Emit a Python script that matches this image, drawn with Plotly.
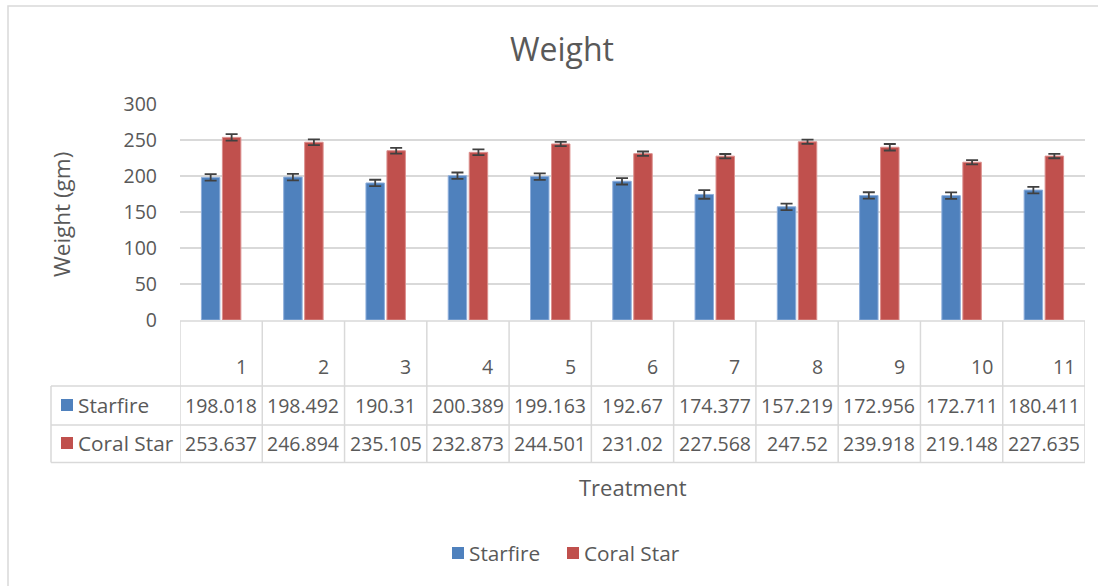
import plotly.graph_objects as go

categories = ["1", "2", "3", "4", "5", "6", "7", "8", "9", "10", "11"]
series_names = ["Starfire", "Coral Star"]
starfire = [198.018, 198.492, 190.31, 200.389, 199.163, 192.67, 174.377, 157.219, 172.956, 172.711, 180.411]
coral_star = [253.637, 246.894, 235.105, 232.873, 244.501, 231.02, 227.568, 247.52, 239.918, 219.148, 227.635]
starfire_err = [4.5, 4.5, 4.5, 4.5, 4.5, 4.5, 6, 4.5, 4.5, 4.5, 4.5]
coral_err = [4.5, 4, 4, 4, 3, 3, 3, 3, 4.5, 3, 3]
y_ticks = [0, 50, 100, 150, 200, 250, 300]

colors = ["#4F81BD", "#C0504D"]
edge = ["#8EAEDB", "#DC8F8D"]
TXT = "#595959"
GRID = "#D9D9D9"
FONT = "Open Sans"
FS = 19.5
FL = 20.8

W, H = 1098, 586
L, R, T, B = 180, 13, 104, 266
PW = W - L - R
PH = H - T - B


def px(x):
    return (x - L) / PW


def py(y):
    return (H - B - y) / PH


def label(x, y, text, xref="paper", size=FS, **kw):
    d = dict(x=x, y=y, xref=xref, yref="paper", text=text, showarrow=False,
             xanchor="center", yanchor="middle", font=dict(family=FONT, size=size, color=TXT))
    d.update(kw)
    return d


fig = go.Figure()
for name, vals, err, c, e in [
    (series_names[0], starfire, starfire_err, colors[0], edge[0]),
    (series_names[1], coral_star, coral_err, colors[1], edge[1]),
]:
    fig.add_trace(go.Bar(
        name=name, x=categories, y=vals,
        marker=dict(color=c, line=dict(color=e, width=1)),
        error_y=dict(type="data", array=err, visible=True, color="#404040", thickness=1.8, width=6),
        showlegend=False, hoverinfo="skip",
    ))

shapes = []
annotations = []
line = dict(color=GRID, width=1.5)

# chart border
shapes.append(dict(type="rect", xref="paper", yref="paper", x0=px(8), x1=px(1110), y0=py(600), y1=py(6),
                   line=dict(color=GRID, width=1.5), layer="below"))

# table horizontal lines
shapes.append(dict(type="line", xref="paper", yref="paper", x0=0, x1=1, y0=py(321), y1=py(321), line=line))
for yy in [386, 425, 462.5]:
    shapes.append(dict(type="line", xref="paper", yref="paper", x0=px(51), x1=1, y0=py(yy), y1=py(yy), line=line))
# vertical lines
shapes.append(dict(type="line", xref="paper", yref="paper", x0=px(51), x1=px(51), y0=py(386), y1=py(462.5), line=line))
for i in range(len(categories) + 1):
    shapes.append(dict(type="line", xref="x", yref="paper", x0=i - 0.5, x1=i - 0.5, y0=py(321), y1=py(462.5), line=line))

# table texts
for i, cat in enumerate(categories):
    annotations.append(label(i, py(366), cat, xref="x", xshift=20))
    annotations.append(label(i, py(405), str(starfire[i]), xref="x"))
    annotations.append(label(i, py(443), str(coral_star[i]), xref="x"))

# row headers with keys
for name, c, yc in [(series_names[0], colors[0], 405), (series_names[1], colors[1], 443)]:
    shapes.append(dict(type="rect", xref="paper", yref="paper", x0=px(61), x1=px(73), y0=py(yc + 6), y1=py(yc - 6),
                       fillcolor=c, line=dict(width=0)))
    annotations.append(label(px(76), py(yc), name, size=FL, xanchor="left"))

# x axis title
annotations.append(label(0.5, py(487), "Treatment", size=22))
# y axis title
annotations.append(label(px(61), py(215), "Weight (gm)", size=22.5, textangle=-90))

# legend
for name, c, xs in [(series_names[0], colors[0], 452), (series_names[1], colors[1], 567)]:
    shapes.append(dict(type="rect", xref="paper", yref="paper", x0=px(xs), x1=px(xs + 12), y0=py(559), y1=py(547),
                       fillcolor=c, line=dict(width=0)))
    annotations.append(label(px(xs + 15), py(553), name, size=FL, xanchor="left"))

fig.update_layout(
    width=W, height=H,
    margin=dict(l=L, r=R, t=T, b=B, autoexpand=False),
    paper_bgcolor="white", plot_bgcolor="white",
    barmode="group", bargap=0.49, bargroupgap=0.12,
    title=dict(text="Weight", x=562 / W, xanchor="center", y=1 - 50 / H, yanchor="middle",
               xref="container", yref="container",
               font=dict(family=FONT, size=32, color=TXT)),
    xaxis=dict(showticklabels=False, showgrid=False, zeroline=False, showline=False, ticks="",
               range=[-0.5, len(categories) - 0.5]),
    yaxis=dict(range=[0, 300], tickvals=y_ticks, showgrid=True, gridcolor=GRID, gridwidth=1.5,
               zeroline=False, showline=False, ticks="", ticklabelstandoff=22,
               tickfont=dict(family=FONT, size=FS, color=TXT)),
    shapes=shapes, annotations=annotations,
    font=dict(family=FONT, color=TXT),
)

fig.write_html("out.html", config={"displayModeBar": False},
               post_script="document.body.style.margin='0';document.body.style.overflow='hidden';")
